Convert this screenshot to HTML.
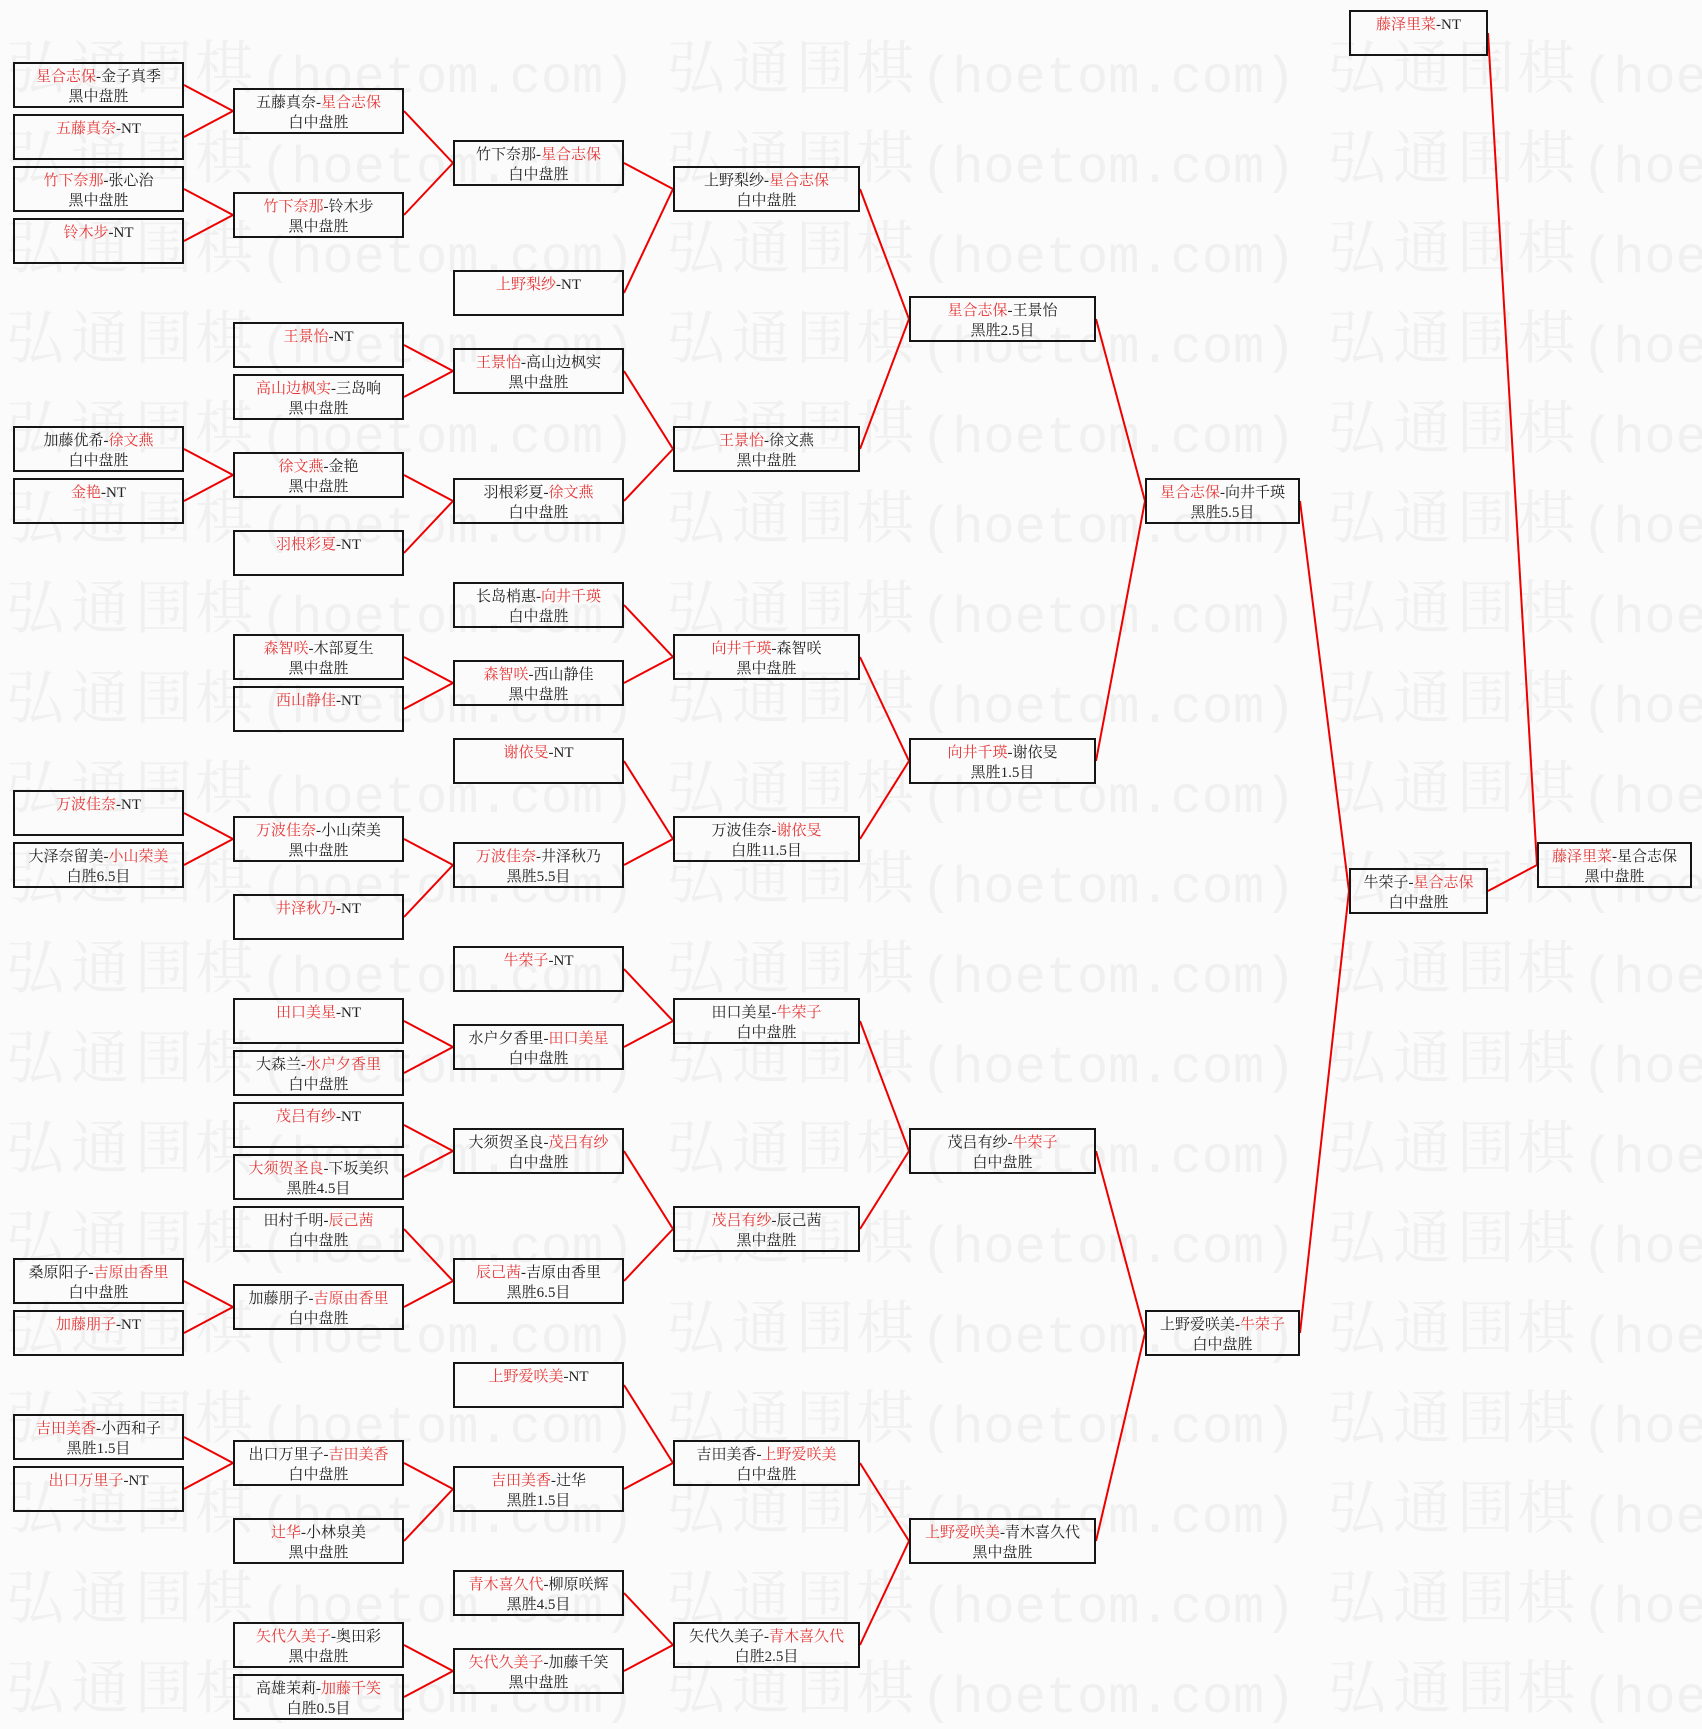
<!DOCTYPE html>
<html><head><meta charset="utf-8">
<style>
html,body{margin:0;padding:0;}
body{width:1702px;height:1729px;position:relative;overflow:hidden;background:#fbfbfb;}
svg{position:absolute;left:0;top:0;}
.w{font-family:"Noto Serif CJK SC","Liberation Serif",serif;font-size:58px;fill:#f0f0f0;}
.m{font-family:"Liberation Mono",monospace;font-size:52px;fill:#f0f0f0;}
.b{position:absolute;box-sizing:border-box;height:46px;border:2px solid #151515;text-align:center;font-family:"Liberation Serif","Noto Serif CJK SC",serif;font-size:15px;line-height:20px;padding-top:3px;color:#222;white-space:nowrap;}
.r{color:#e63838;}
.c0{left:13px;width:171px}.c1{left:233px;width:171px}.c2{left:453px;width:171px}
.c3{left:673px;width:187px}.c4{left:909px;width:187px}.c5{left:1145px;width:155px}
.c6{left:1349px;width:139px}.c7{left:1537px;width:155px}
</style></head><body>
<svg width="1702" height="1729">
<g transform="translate(0,88)"><text class="w" x="6 71 135 195" y="0">弘通围棋</text><text class="m" x="260" y="4">(hoetom.com)</text><text class="w" x="667 732 796 856" y="0">弘通围棋</text><text class="m" x="921" y="4">(hoetom.com)</text><text class="w" x="1328 1393 1457 1517" y="0">弘通围棋</text><text class="m" x="1582" y="4">(hoetom.com)</text></g>
<g transform="translate(0,178)"><text class="w" x="6 71 135 195" y="0">弘通围棋</text><text class="m" x="260" y="4">(hoetom.com)</text><text class="w" x="667 732 796 856" y="0">弘通围棋</text><text class="m" x="921" y="4">(hoetom.com)</text><text class="w" x="1328 1393 1457 1517" y="0">弘通围棋</text><text class="m" x="1582" y="4">(hoetom.com)</text></g>
<g transform="translate(0,268)"><text class="w" x="6 71 135 195" y="0">弘通围棋</text><text class="m" x="260" y="4">(hoetom.com)</text><text class="w" x="667 732 796 856" y="0">弘通围棋</text><text class="m" x="921" y="4">(hoetom.com)</text><text class="w" x="1328 1393 1457 1517" y="0">弘通围棋</text><text class="m" x="1582" y="4">(hoetom.com)</text></g>
<g transform="translate(0,358)"><text class="w" x="6 71 135 195" y="0">弘通围棋</text><text class="m" x="260" y="4">(hoetom.com)</text><text class="w" x="667 732 796 856" y="0">弘通围棋</text><text class="m" x="921" y="4">(hoetom.com)</text><text class="w" x="1328 1393 1457 1517" y="0">弘通围棋</text><text class="m" x="1582" y="4">(hoetom.com)</text></g>
<g transform="translate(0,448)"><text class="w" x="6 71 135 195" y="0">弘通围棋</text><text class="m" x="260" y="4">(hoetom.com)</text><text class="w" x="667 732 796 856" y="0">弘通围棋</text><text class="m" x="921" y="4">(hoetom.com)</text><text class="w" x="1328 1393 1457 1517" y="0">弘通围棋</text><text class="m" x="1582" y="4">(hoetom.com)</text></g>
<g transform="translate(0,538)"><text class="w" x="6 71 135 195" y="0">弘通围棋</text><text class="m" x="260" y="4">(hoetom.com)</text><text class="w" x="667 732 796 856" y="0">弘通围棋</text><text class="m" x="921" y="4">(hoetom.com)</text><text class="w" x="1328 1393 1457 1517" y="0">弘通围棋</text><text class="m" x="1582" y="4">(hoetom.com)</text></g>
<g transform="translate(0,628)"><text class="w" x="6 71 135 195" y="0">弘通围棋</text><text class="m" x="260" y="4">(hoetom.com)</text><text class="w" x="667 732 796 856" y="0">弘通围棋</text><text class="m" x="921" y="4">(hoetom.com)</text><text class="w" x="1328 1393 1457 1517" y="0">弘通围棋</text><text class="m" x="1582" y="4">(hoetom.com)</text></g>
<g transform="translate(0,718)"><text class="w" x="6 71 135 195" y="0">弘通围棋</text><text class="m" x="260" y="4">(hoetom.com)</text><text class="w" x="667 732 796 856" y="0">弘通围棋</text><text class="m" x="921" y="4">(hoetom.com)</text><text class="w" x="1328 1393 1457 1517" y="0">弘通围棋</text><text class="m" x="1582" y="4">(hoetom.com)</text></g>
<g transform="translate(0,808)"><text class="w" x="6 71 135 195" y="0">弘通围棋</text><text class="m" x="260" y="4">(hoetom.com)</text><text class="w" x="667 732 796 856" y="0">弘通围棋</text><text class="m" x="921" y="4">(hoetom.com)</text><text class="w" x="1328 1393 1457 1517" y="0">弘通围棋</text><text class="m" x="1582" y="4">(hoetom.com)</text></g>
<g transform="translate(0,898)"><text class="w" x="6 71 135 195" y="0">弘通围棋</text><text class="m" x="260" y="4">(hoetom.com)</text><text class="w" x="667 732 796 856" y="0">弘通围棋</text><text class="m" x="921" y="4">(hoetom.com)</text><text class="w" x="1328 1393 1457 1517" y="0">弘通围棋</text><text class="m" x="1582" y="4">(hoetom.com)</text></g>
<g transform="translate(0,988)"><text class="w" x="6 71 135 195" y="0">弘通围棋</text><text class="m" x="260" y="4">(hoetom.com)</text><text class="w" x="667 732 796 856" y="0">弘通围棋</text><text class="m" x="921" y="4">(hoetom.com)</text><text class="w" x="1328 1393 1457 1517" y="0">弘通围棋</text><text class="m" x="1582" y="4">(hoetom.com)</text></g>
<g transform="translate(0,1078)"><text class="w" x="6 71 135 195" y="0">弘通围棋</text><text class="m" x="260" y="4">(hoetom.com)</text><text class="w" x="667 732 796 856" y="0">弘通围棋</text><text class="m" x="921" y="4">(hoetom.com)</text><text class="w" x="1328 1393 1457 1517" y="0">弘通围棋</text><text class="m" x="1582" y="4">(hoetom.com)</text></g>
<g transform="translate(0,1168)"><text class="w" x="6 71 135 195" y="0">弘通围棋</text><text class="m" x="260" y="4">(hoetom.com)</text><text class="w" x="667 732 796 856" y="0">弘通围棋</text><text class="m" x="921" y="4">(hoetom.com)</text><text class="w" x="1328 1393 1457 1517" y="0">弘通围棋</text><text class="m" x="1582" y="4">(hoetom.com)</text></g>
<g transform="translate(0,1258)"><text class="w" x="6 71 135 195" y="0">弘通围棋</text><text class="m" x="260" y="4">(hoetom.com)</text><text class="w" x="667 732 796 856" y="0">弘通围棋</text><text class="m" x="921" y="4">(hoetom.com)</text><text class="w" x="1328 1393 1457 1517" y="0">弘通围棋</text><text class="m" x="1582" y="4">(hoetom.com)</text></g>
<g transform="translate(0,1348)"><text class="w" x="6 71 135 195" y="0">弘通围棋</text><text class="m" x="260" y="4">(hoetom.com)</text><text class="w" x="667 732 796 856" y="0">弘通围棋</text><text class="m" x="921" y="4">(hoetom.com)</text><text class="w" x="1328 1393 1457 1517" y="0">弘通围棋</text><text class="m" x="1582" y="4">(hoetom.com)</text></g>
<g transform="translate(0,1438)"><text class="w" x="6 71 135 195" y="0">弘通围棋</text><text class="m" x="260" y="4">(hoetom.com)</text><text class="w" x="667 732 796 856" y="0">弘通围棋</text><text class="m" x="921" y="4">(hoetom.com)</text><text class="w" x="1328 1393 1457 1517" y="0">弘通围棋</text><text class="m" x="1582" y="4">(hoetom.com)</text></g>
<g transform="translate(0,1528)"><text class="w" x="6 71 135 195" y="0">弘通围棋</text><text class="m" x="260" y="4">(hoetom.com)</text><text class="w" x="667 732 796 856" y="0">弘通围棋</text><text class="m" x="921" y="4">(hoetom.com)</text><text class="w" x="1328 1393 1457 1517" y="0">弘通围棋</text><text class="m" x="1582" y="4">(hoetom.com)</text></g>
<g transform="translate(0,1618)"><text class="w" x="6 71 135 195" y="0">弘通围棋</text><text class="m" x="260" y="4">(hoetom.com)</text><text class="w" x="667 732 796 856" y="0">弘通围棋</text><text class="m" x="921" y="4">(hoetom.com)</text><text class="w" x="1328 1393 1457 1517" y="0">弘通围棋</text><text class="m" x="1582" y="4">(hoetom.com)</text></g>
<g transform="translate(0,1708)"><text class="w" x="6 71 135 195" y="0">弘通围棋</text><text class="m" x="260" y="4">(hoetom.com)</text><text class="w" x="667 732 796 856" y="0">弘通围棋</text><text class="m" x="921" y="4">(hoetom.com)</text><text class="w" x="1328 1393 1457 1517" y="0">弘通围棋</text><text class="m" x="1582" y="4">(hoetom.com)</text></g>

<g stroke="#ee0000" stroke-width="2" fill="none">
<line x1="184" y1="85" x2="233" y2="111"/><line x1="184" y1="137" x2="233" y2="111"/>
<line x1="184" y1="189" x2="233" y2="215"/><line x1="184" y1="241" x2="233" y2="215"/>
<line x1="184" y1="449" x2="233" y2="475"/><line x1="184" y1="501" x2="233" y2="475"/>
<line x1="184" y1="813" x2="233" y2="839"/><line x1="184" y1="865" x2="233" y2="839"/>
<line x1="184" y1="1281" x2="233" y2="1307"/><line x1="184" y1="1333" x2="233" y2="1307"/>
<line x1="184" y1="1437" x2="233" y2="1463"/><line x1="184" y1="1489" x2="233" y2="1463"/>

<line x1="404" y1="111" x2="453" y2="163"/><line x1="404" y1="215" x2="453" y2="163"/>
<line x1="404" y1="345" x2="453" y2="371"/><line x1="404" y1="397" x2="453" y2="371"/>
<line x1="404" y1="475" x2="453" y2="501"/><line x1="404" y1="553" x2="453" y2="501"/>
<line x1="404" y1="657" x2="453" y2="683"/><line x1="404" y1="709" x2="453" y2="683"/>
<line x1="404" y1="839" x2="453" y2="865"/><line x1="404" y1="917" x2="453" y2="865"/>
<line x1="404" y1="1021" x2="453" y2="1047"/><line x1="404" y1="1073" x2="453" y2="1047"/>
<line x1="404" y1="1125" x2="453" y2="1151"/><line x1="404" y1="1177" x2="453" y2="1151"/>
<line x1="404" y1="1229" x2="453" y2="1281"/><line x1="404" y1="1307" x2="453" y2="1281"/>
<line x1="404" y1="1463" x2="453" y2="1489"/><line x1="404" y1="1541" x2="453" y2="1489"/>
<line x1="404" y1="1645" x2="453" y2="1671"/><line x1="404" y1="1697" x2="453" y2="1671"/>

<line x1="624" y1="163" x2="673" y2="189"/><line x1="624" y1="293" x2="673" y2="189"/>
<line x1="624" y1="371" x2="673" y2="449"/><line x1="624" y1="501" x2="673" y2="449"/>
<line x1="624" y1="605" x2="673" y2="657"/><line x1="624" y1="683" x2="673" y2="657"/>
<line x1="624" y1="761" x2="673" y2="839"/><line x1="624" y1="865" x2="673" y2="839"/>
<line x1="624" y1="969" x2="673" y2="1021"/><line x1="624" y1="1047" x2="673" y2="1021"/>
<line x1="624" y1="1151" x2="673" y2="1229"/><line x1="624" y1="1281" x2="673" y2="1229"/>
<line x1="624" y1="1385" x2="673" y2="1463"/><line x1="624" y1="1489" x2="673" y2="1463"/>
<line x1="624" y1="1593" x2="673" y2="1645"/><line x1="624" y1="1671" x2="673" y2="1645"/>

<line x1="860" y1="189" x2="909" y2="319"/><line x1="860" y1="449" x2="909" y2="319"/>
<line x1="860" y1="657" x2="909" y2="761"/><line x1="860" y1="839" x2="909" y2="761"/>
<line x1="860" y1="1021" x2="909" y2="1151"/><line x1="860" y1="1229" x2="909" y2="1151"/>
<line x1="860" y1="1463" x2="909" y2="1541"/><line x1="860" y1="1645" x2="909" y2="1541"/>

<line x1="1096" y1="319" x2="1145" y2="501"/><line x1="1096" y1="761" x2="1145" y2="501"/>
<line x1="1096" y1="1151" x2="1145" y2="1333"/><line x1="1096" y1="1541" x2="1145" y2="1333"/>

<line x1="1300" y1="501" x2="1349" y2="891"/><line x1="1300" y1="1333" x2="1349" y2="891"/>

<line x1="1488" y1="33" x2="1537" y2="865"/><line x1="1488" y1="891" x2="1537" y2="865"/>
</g>
</svg>

<!-- col0 -->
<div class="b c0" style="top:62px"><span class="r">星合志保</span>-金子真季<br>黑中盘胜</div>
<div class="b c0" style="top:114px"><span class="r">五藤真奈</span>-NT</div>
<div class="b c0" style="top:166px"><span class="r">竹下奈那</span>-张心治<br>黑中盘胜</div>
<div class="b c0" style="top:218px"><span class="r">铃木步</span>-NT</div>
<div class="b c0" style="top:426px">加藤优希-<span class="r">徐文燕</span><br>白中盘胜</div>
<div class="b c0" style="top:478px"><span class="r">金艳</span>-NT</div>
<div class="b c0" style="top:790px"><span class="r">万波佳奈</span>-NT</div>
<div class="b c0" style="top:842px">大泽奈留美-<span class="r">小山荣美</span><br>白胜6.5目</div>
<div class="b c0" style="top:1258px">桑原阳子-<span class="r">吉原由香里</span><br>白中盘胜</div>
<div class="b c0" style="top:1310px"><span class="r">加藤朋子</span>-NT</div>
<div class="b c0" style="top:1414px"><span class="r">吉田美香</span>-小西和子<br>黑胜1.5目</div>
<div class="b c0" style="top:1466px"><span class="r">出口万里子</span>-NT</div>

<!-- col1 -->
<div class="b c1" style="top:88px">五藤真奈-<span class="r">星合志保</span><br>白中盘胜</div>
<div class="b c1" style="top:192px"><span class="r">竹下奈那</span>-铃木步<br>黑中盘胜</div>
<div class="b c1" style="top:322px"><span class="r">王景怡</span>-NT</div>
<div class="b c1" style="top:374px"><span class="r">高山边枫实</span>-三岛响<br>黑中盘胜</div>
<div class="b c1" style="top:452px"><span class="r">徐文燕</span>-金艳<br>黑中盘胜</div>
<div class="b c1" style="top:530px"><span class="r">羽根彩夏</span>-NT</div>
<div class="b c1" style="top:634px"><span class="r">森智咲</span>-木部夏生<br>黑中盘胜</div>
<div class="b c1" style="top:686px"><span class="r">西山静佳</span>-NT</div>
<div class="b c1" style="top:816px"><span class="r">万波佳奈</span>-小山荣美<br>黑中盘胜</div>
<div class="b c1" style="top:894px"><span class="r">井泽秋乃</span>-NT</div>
<div class="b c1" style="top:998px"><span class="r">田口美星</span>-NT</div>
<div class="b c1" style="top:1050px">大森兰-<span class="r">水户夕香里</span><br>白中盘胜</div>
<div class="b c1" style="top:1102px"><span class="r">茂吕有纱</span>-NT</div>
<div class="b c1" style="top:1154px"><span class="r">大须贺圣良</span>-下坂美织<br>黑胜4.5目</div>
<div class="b c1" style="top:1206px">田村千明-<span class="r">辰己茜</span><br>白中盘胜</div>
<div class="b c1" style="top:1284px">加藤朋子-<span class="r">吉原由香里</span><br>白中盘胜</div>
<div class="b c1" style="top:1440px">出口万里子-<span class="r">吉田美香</span><br>白中盘胜</div>
<div class="b c1" style="top:1518px"><span class="r">辻华</span>-小林泉美<br>黑中盘胜</div>
<div class="b c1" style="top:1622px"><span class="r">矢代久美子</span>-奥田彩<br>黑中盘胜</div>
<div class="b c1" style="top:1674px">高雄茉莉-<span class="r">加藤千笑</span><br>白胜0.5目</div>

<!-- col2 -->
<div class="b c2" style="top:140px">竹下奈那-<span class="r">星合志保</span><br>白中盘胜</div>
<div class="b c2" style="top:270px"><span class="r">上野梨纱</span>-NT</div>
<div class="b c2" style="top:348px"><span class="r">王景怡</span>-高山边枫实<br>黑中盘胜</div>
<div class="b c2" style="top:478px">羽根彩夏-<span class="r">徐文燕</span><br>白中盘胜</div>
<div class="b c2" style="top:582px">长岛梢惠-<span class="r">向井千瑛</span><br>白中盘胜</div>
<div class="b c2" style="top:660px"><span class="r">森智咲</span>-西山静佳<br>黑中盘胜</div>
<div class="b c2" style="top:738px"><span class="r">谢依旻</span>-NT</div>
<div class="b c2" style="top:842px"><span class="r">万波佳奈</span>-井泽秋乃<br>黑胜5.5目</div>
<div class="b c2" style="top:946px"><span class="r">牛荣子</span>-NT</div>
<div class="b c2" style="top:1024px">水户夕香里-<span class="r">田口美星</span><br>白中盘胜</div>
<div class="b c2" style="top:1128px">大须贺圣良-<span class="r">茂吕有纱</span><br>白中盘胜</div>
<div class="b c2" style="top:1258px"><span class="r">辰己茜</span>-吉原由香里<br>黑胜6.5目</div>
<div class="b c2" style="top:1362px"><span class="r">上野爱咲美</span>-NT</div>
<div class="b c2" style="top:1466px"><span class="r">吉田美香</span>-辻华<br>黑胜1.5目</div>
<div class="b c2" style="top:1570px"><span class="r">青木喜久代</span>-柳原咲辉<br>黑胜4.5目</div>
<div class="b c2" style="top:1648px"><span class="r">矢代久美子</span>-加藤千笑<br>黑中盘胜</div>

<!-- col3 -->
<div class="b c3" style="top:166px">上野梨纱-<span class="r">星合志保</span><br>白中盘胜</div>
<div class="b c3" style="top:426px"><span class="r">王景怡</span>-徐文燕<br>黑中盘胜</div>
<div class="b c3" style="top:634px"><span class="r">向井千瑛</span>-森智咲<br>黑中盘胜</div>
<div class="b c3" style="top:816px">万波佳奈-<span class="r">谢依旻</span><br>白胜11.5目</div>
<div class="b c3" style="top:998px">田口美星-<span class="r">牛荣子</span><br>白中盘胜</div>
<div class="b c3" style="top:1206px"><span class="r">茂吕有纱</span>-辰己茜<br>黑中盘胜</div>
<div class="b c3" style="top:1440px">吉田美香-<span class="r">上野爱咲美</span><br>白中盘胜</div>
<div class="b c3" style="top:1622px">矢代久美子-<span class="r">青木喜久代</span><br>白胜2.5目</div>

<!-- col4 -->
<div class="b c4" style="top:296px"><span class="r">星合志保</span>-王景怡<br>黑胜2.5目</div>
<div class="b c4" style="top:738px"><span class="r">向井千瑛</span>-谢依旻<br>黑胜1.5目</div>
<div class="b c4" style="top:1128px">茂吕有纱-<span class="r">牛荣子</span><br>白中盘胜</div>
<div class="b c4" style="top:1518px"><span class="r">上野爱咲美</span>-青木喜久代<br>黑中盘胜</div>

<!-- col5 -->
<div class="b c5" style="top:478px"><span class="r">星合志保</span>-向井千瑛<br>黑胜5.5目</div>
<div class="b c5" style="top:1310px">上野爱咲美-<span class="r">牛荣子</span><br>白中盘胜</div>

<!-- col6 -->
<div class="b c6" style="top:10px"><span class="r">藤泽里菜</span>-NT</div>
<div class="b c6" style="top:868px">牛荣子-<span class="r">星合志保</span><br>白中盘胜</div>

<!-- col7 -->
<div class="b c7" style="top:842px"><span class="r">藤泽里菜</span>-星合志保<br>黑中盘胜</div>
</body></html>
